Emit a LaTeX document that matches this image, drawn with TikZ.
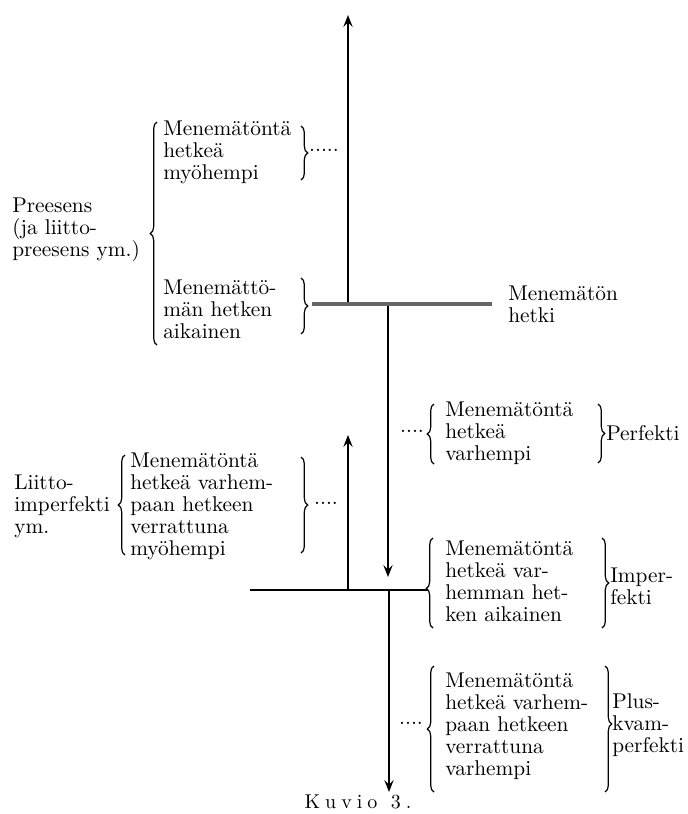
\documentclass[tikz,border=0pt]{standalone}
\usepackage{fontspec}
\setmainfont{lmroman10-regular.otf}
\usetikzlibrary{arrows.meta,decorations.pathreplacing}

\begin{document}
\begin{tikzpicture}[x=0.75pt,y=-0.75pt]
    \tikzset{TextStyle/.style={font=\fontsize{16}{16.5}\selectfont, align=left, anchor=west, inner sep=0pt}}
    \tikzset{DotStyle/.style={font=\fontsize{16}{16.5}\selectfont, inner sep=0pt}}
    \tikzset{BraceStyle/.style={decorate, decoration={brace, amplitude=5pt}, line width=0.9pt}}
    \tikzset{AxisStyle/.style={line width=0.9pt, -{Stealth[length=9pt, width=7pt, inset=3.5pt]}}}
    \useasboundingbox (0,0) rectangle (688,814);

    \coordinate (nowW) at (312,304);
    \coordinate (nowE) at (492,304);
    \coordinate (nowUp) at (348,302);
    \coordinate (future) at (348,15);
    \coordinate (nowDown) at (388,306);
    \coordinate (pastTip) at (388,577);
    \coordinate (pastW) at (250,590);
    \coordinate (pastE) at (428,590);
    \coordinate (pastUp) at (348,590);
    \coordinate (pastFuture) at (348,435);
    \coordinate (pastDown) at (389,590);
    \coordinate (pluperf) at (389,792);

    \draw[line width=3.5pt, black!60] (nowW) -- (nowE);
    \draw[AxisStyle] (nowUp) -- (future);
    \draw[AxisStyle] (nowDown) -- (pastTip);
    \draw[line width=0.9pt] (pastW) -- (pastE);
    \draw[AxisStyle] (pastUp) -- (pastFuture);
    \draw[AxisStyle] (pastDown) -- (pluperf);

    \node[TextStyle] (preesens) at (12,230) {Preesens\\(ja liitto-\\preesens ym.)};
    \draw[BraceStyle] (157,345) -- (157,122);
    \node[TextStyle] (presLater) at (163,152) {Menemätöntä\\hetkeä\\myöhempi};
    \draw[BraceStyle] (301,126) -- (301,180);
    \node[DotStyle] (presDots) at (324,150) {.....};
    \node[TextStyle] (presNow) at (163,309) {Menemättö-\\män hetken\\aikainen};
    \draw[BraceStyle] (301,278) -- (301,334);
    \node[TextStyle] (now) at (508,304) {Menemätön\\hetki};

    \draw[BraceStyle] (434,464) -- (434,404);
    \node[DotStyle] (perfDots) at (412,431) {....};
    \node[TextStyle] (perfText) at (445,433) {Menemätöntä\\hetkeä\\varhempi};
    \draw[BraceStyle] (598,404) -- (598,463);
    \node[TextStyle] (perfekti) at (606,433) {Perfekti};

    \node[TextStyle] (liitto) at (14,506) {Liitto-\\imperfekti\\ym.};
    \draw[BraceStyle] (125,555) -- (125,455);
    \node[TextStyle] (liittoText) at (130,506) {Menemätöntä\\hetkeä varhem-\\paan hetkeen\\verrattuna\\myöhempi};
    \draw[BraceStyle] (301,457) -- (301,553);
    \node[DotStyle] (liittoDots) at (326,503) {....};

    \draw[BraceStyle, decoration={aspect=0.44}] (433,628) -- (433,538);
    \node[TextStyle] (impText) at (445,581) {Menemätöntä\\hetkeä var-\\hemman het-\\ken aikainen};
    \draw[BraceStyle] (602,538) -- (602,628);
    \node[TextStyle] (imperfekti) at (610,586) {Imper-\\fekti};

    \draw[BraceStyle] (434,792) -- (434,666);
    \node[DotStyle] (plusDots) at (411,723) {....};
    \node[TextStyle] (plusText) at (445,726) {Menemätöntä\\hetkeä varhem-\\paan hetkeen\\verrattuna\\varhempi};
    \draw[BraceStyle, decoration={aspect=0.46}] (605,666) -- (605,792);
    \node[TextStyle] (pluskvam) at (612,725) {Plus-\\kvam-\\perfekti};

    \node[font=\fontsize{15}{16}\selectfont\addfontfeatures{LetterSpace=25}, inner sep=0pt] (caption) at (358,802) {Kuvio\hspace{10pt}3.};
\end{tikzpicture}
\end{document}
